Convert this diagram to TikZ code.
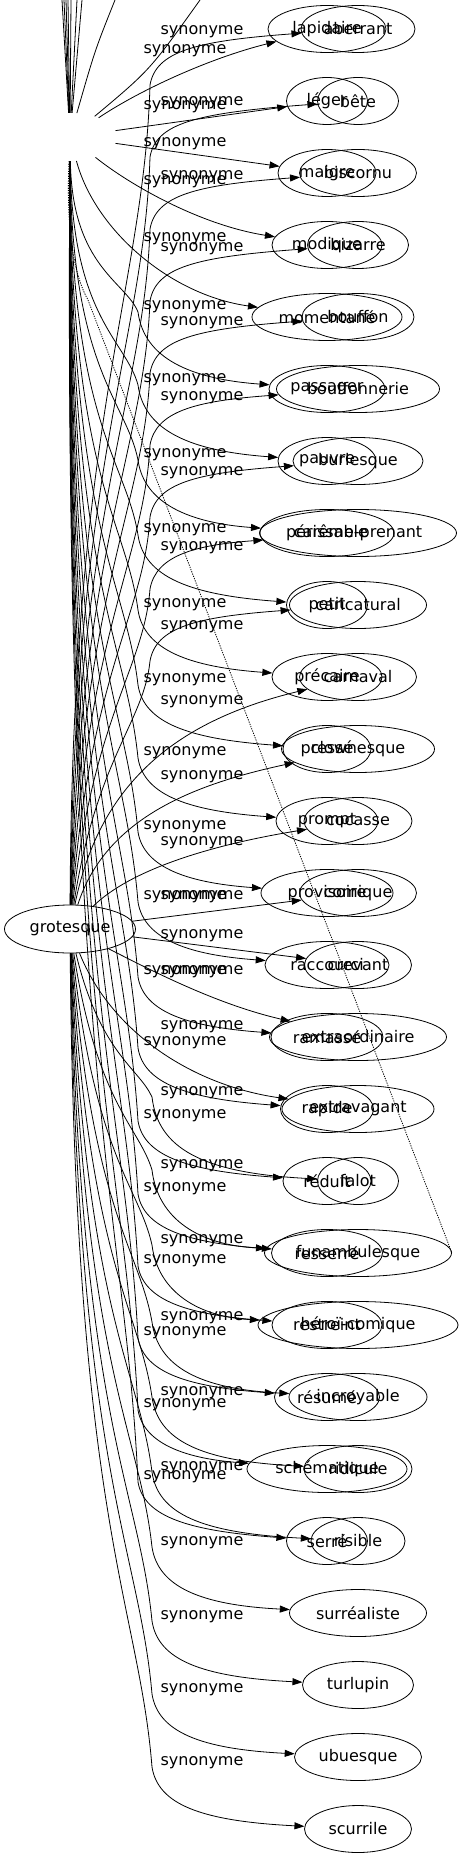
\documentclass[tikz,border=0pt]{standalone}
\usepackage{fontspec}
\setmainfont{DejaVu Sans}
\usetikzlibrary{shapes.geometric,arrows.meta}
\begin{document}
\begin{tikzpicture}[x=1pt,y=-1pt,
  every node/.style={font=\fontsize{16}{19}\selectfont},
  word/.style={ellipse, draw, line width=0.8pt, minimum height=47, inner sep=0pt},
  lab/.style={inner sep=0pt},
  link/.style={line width=0.8pt, -{Triangle[length=10pt,width=7pt]}},
  plain/.style={line width=0.8pt}]
\fill[white] (0,0) rectangle (463,1859);
\useasboundingbox (0,0) rectangle (463,1859);
% ---------- grotesque graph ----------
\node[word, minimum width=131, minimum height=48] (G) at (70,929) {grotesque};
\foreach \i/\w/\t in {1/114/aberrant,2/81/bête,3/117/biscornu,4/101/bizarre,5/112/bouffon,6/163/bouffonnerie,7/130/burlesque,8/197/carême-prenant,9/137/caricatural,10/117/carnaval,11/153/clownesque,12/108/cocasse,13/117/comique,14/107/crevant,15/177/extraordinaire,16/152/extravagant,17/81/falot,18/187/funambulesque,19/200/héroï-comique,20/138/incroyable,21/108/ridicule,22/94/risible,23/137/surréaliste,24/111/turlupin,25/127/ubuesque,26/107/scurrile}
  \node[word, minimum width=\w] (g\i) at (358,{29+72*(\i-1)}) {\t};
\foreach \i/\yy in {1/32,2/103,3/177,4/249,5/323,6/398,7/473,8/548,9/627,10/702,11/777,12/843,13/897,14/936,15/972,16/1027,17/1093,18/1166,19/1241,20/1318,21/1393,22/1468,23/1543,24/1617,25/1690,26/1763}
  \node[lab] (gl\i) at (202,\yy) {synonyme};
\foreach \i in {1,...,9} {
  \pgfmathsetmacro\yt{29+72*(\i-1)}
  \pgfmathsetmacro\vy{\yt+56}
  \pgfmathsetmacro\sx{72+3*(\i-1)}
  \pgfmathsetmacro\ca{905-0.6*(905-\vy)}
  \pgfmathsetmacro\cb{\vy+0.25*(905-\vy)}
  \pgfmathsetmacro\da{\vy+0.6*(\yt-\vy)}
  \pgfmathsetmacro\db{\yt+12}
  \draw[link] (G) .. controls (\sx,\ca) and (144,\cb) .. (150,\vy) .. controls (156,\da) and (195,\db) .. (g\i);
}
\draw[link] (G) .. controls (100,780) and (180,720) .. (g10);
\draw[link] (G) .. controls (105,820) and (190,785) .. (g11);
\draw[link] (G) .. controls (130,870) and (210,845) .. (g12);
\draw[link] (G) -- (g13);
\draw[link] (G) -- (g14);
\draw[link] (G) .. controls (160,975) and (220,1005) .. (g15);
\draw[link] (G) .. controls (110,1030) and (190,1085) .. (g16);
\foreach \i/\vy in {17/1097,18/1170,19/1245,20/1322,21/1397,22/1472,23/1547,24/1621,25/1694,26/1767} {
  \pgfmathsetmacro\yt{29+72*(\i-1)}
  \pgfmathsetmacro\sx{75+(26-\i)*2.8}
  \pgfmathsetmacro\ca{953+0.7*(\vy-953)}
  \pgfmathsetmacro\cb{\vy-0.2*(\vy-953)}
  \pgfmathsetmacro\da{\vy+0.6*(\yt-\vy)}
  \pgfmathsetmacro\db{\yt-8}
  \draw[link] (G) .. controls (\sx,\ca) and (139,\cb) .. (152,\vy) .. controls (158,\da) and (200,\db) .. (g\i);
}
% ---------- court graph (hub hidden) ----------
\node[ellipse, minimum width=94, minimum height=48, inner sep=0pt] (C) at (70,137) {};
\foreach \i/\w/\t in {1/118/lapidaire,2/81/léger,3/98/maigre,4/110/modique,5/150/momentané,6/116/passager,7/98/pauvre,8/134/périssable,9/81/petit,10/110/précaire,11/88/pressé,12/102/prompt,13/132/provisoire,14/124/raccourci,15/112/ramassé,16/93/rapide,17/88/réduit,18/111/resserré,19/110/restreint,20/105/résumé,21/160/schématique,22/81/serré}
  \node[word, minimum width=\w] (c\i) at (327,{29+72*(\i-1)}) {\t};
\foreach \i/\yy in {1/51,2/107,3/144,4/182,5/239,6/307,7/380,8/455,9/530,10/605,11/680,12/753,13/827,14/897,15/972,16/1043,17/1116,18/1189,19/1261,20/1333,21/1405,22/1477}
  \node[lab] (cl\i) at (185,\yy) {synonyme};
\draw[link] (C) .. controls (140,90) and (210,58) .. (c1);
\draw[link] (C) -- (c2);
\draw[link] (C) -- (c3);
\draw[link] (C) .. controls (130,185) and (200,225) .. (c4);
\draw[link] (C) .. controls (95,230) and (170,295) .. (c5);
\foreach \i/\vy in {6/312,7/385,8/460,9/535,10/610,11/685,12/758,13/832,14/902,15/977,16/1048,17/1121,18/1194,19/1266,20/1338,21/1410,22/1482} {
  \pgfmathsetmacro\yt{29+72*(\i-1)}
  \pgfmathsetmacro\sx{72-(\i-6)*0.55}
  \pgfmathsetmacro\ca{161+0.7*(\vy-161)}
  \pgfmathsetmacro\cb{\vy-0.2*(\vy-161)}
  \pgfmathsetmacro\da{\vy+0.6*(\yt-\vy)}
  \pgfmathsetmacro\db{\yt-10}
  \draw[link] (C) .. controls (\sx,\ca) and (126,\cb) .. (138,\vy) .. controls (144,\da) and (190,\db) .. (c\i);
}
% edges of the court graph leaving the top of the picture
\foreach \k/\xx in {1/62,2/64,3/66,4/68,5/71,6/77,7/82} {
  \coordinate (u\k) at (\xx,0);
  \draw[plain] (C) -- (u\k);
}
\coordinate (u8) at (115,0);
\coordinate (u9) at (200,0);
\draw[plain] (C) .. controls (95,50) .. (u8);
\draw[plain] (C) .. controls (150,70) .. (u9);
\draw[line width=0.8pt, dash pattern=on 1.2pt off 1.2pt] (C) .. controls (66,230) and (74,275) .. (88,300) -- (g18.east);
\end{tikzpicture}
\end{document}
